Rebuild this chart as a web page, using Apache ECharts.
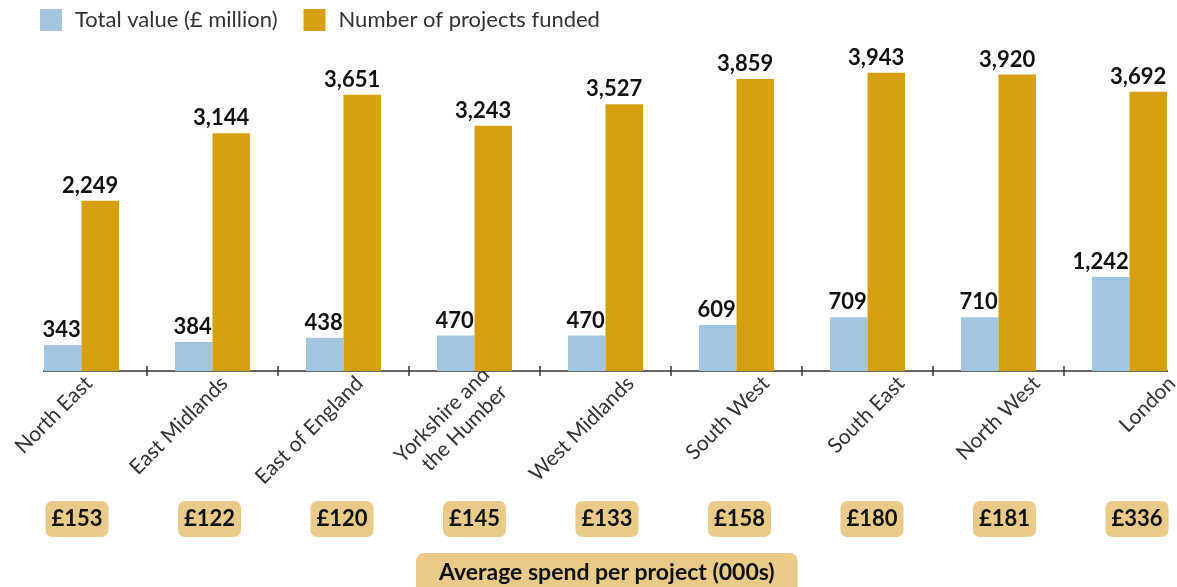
<!DOCTYPE html>
<html>
<head>
<meta charset="utf-8">
<script src="https://cdn.jsdelivr.net/npm/echarts@6/dist/echarts.min.js"></script>
<style>
  html, body { margin: 0; padding: 0; background: #fff; }
  #chart { width: 1177px; height: 587px; }
</style>
</head>
<body>
<div id="chart"></div>
<script>
// regions, left to right
const regions = ['North East', 'East Midlands', 'East of England', 'Yorkshire and\nthe Humber',
  'West Midlands', 'South West', 'South East', 'North West', 'London']
const totalValue = [343, 384, 438, 470, 470, 609, 709, 710, 1242]
const projectsFunded = [2249, 3144, 3651, 3243, 3527, 3859, 3943, 3920, 3692]
const avgSpend = ['£153', '£122', '£120', '£145', '£133', '£158', '£180', '£181', '£336']

const blue = '#a3c6e0'
const gold = '#d69f10'
const boxColor = '#eaca88'
const font = 'Lato'

let myChart = echarts.init(document.getElementById('chart'))

const barLabel = {
  show: true,
  position: 'top',
  distance: 4,
  align: 'right',
  offset: [18, 0],
  color: '#111',
  fontFamily: font,
  fontWeight: 'bold',
  fontSize: 22,
  formatter: p => p.value.toLocaleString('en-GB')
}

const tickStyle = { color: '#333', width: 1.5 }
// skip the tick at the far left edge, the axis line starts at the first bar
const tickFilter = (i) => i > 0

myChart.setOption({
  animation: false,
  legend: {
    left: 40,
    top: 9,
    padding: 0,
    itemWidth: 22,
    itemHeight: 22,
    itemGap: 26,
    icon: 'rect',
    textStyle: { fontFamily: font, fontSize: 22, color: '#333', padding: [0, 0, 0, 8] }
  },
  title: {
    text: 'Average spend per project (000s)',
    left: 416,
    top: 553,
    padding: [7, 23, 14, 23],
    backgroundColor: boxColor,
    borderRadius: 8,
    textStyle: { fontFamily: font, fontSize: 23, fontWeight: 'bold', color: '#111', lineHeight: 26 }
  },
  graphic: [
    { type: 'line', shape: { x1: 43, y1: 371, x2: 1168, y2: 371 }, style: { stroke: '#333', lineWidth: 1.5 } }
  ],
  grid: [
    { left: 16, width: 1179, top: 68.4, bottom: 216, outerBoundsMode: 'none' },
    { left: 21, width: 1218.6, top: 361, height: 10, outerBoundsMode: 'none' },
    { left: 10.75, width: 1192.5, top: 480, height: 10, outerBoundsMode: 'none' }
  ],
  xAxis: [
    {
      type: 'category', gridIndex: 0, data: regions,
      axisLine: { show: false },
      axisTick: { show: true, length: 5, interval: tickFilter, lineStyle: tickStyle },
      axisLabel: { show: false }
    },
    {
      type: 'category', gridIndex: 0, data: regions, position: 'bottom',
      axisLine: { show: false },
      axisTick: { show: true, inside: true, length: 5, interval: tickFilter, lineStyle: tickStyle },
      axisLabel: { show: false }
    },
    {
      type: 'category', gridIndex: 1, data: regions,
      axisLine: { show: false }, axisTick: { show: false },
      axisLabel: { rotate: 45, margin: 9, fontFamily: font, fontSize: 21, color: '#333', lineHeight: 25, interval: 0 }
    },
    {
      type: 'category', gridIndex: 2, data: avgSpend,
      axisLine: { show: false }, axisTick: { show: false },
      axisLabel: {
        margin: 11, interval: 0, fontFamily: font, fontSize: 22, fontWeight: 'bold', color: '#111',
        backgroundColor: boxColor, borderRadius: 7, padding: [7, 6, 7, 6], lineHeight: 22
      }
    }
  ],
  yAxis: [
    { type: 'value', gridIndex: 0, min: 0, max: 4000, show: false },
    { type: 'value', gridIndex: 1, show: false },
    { type: 'value', gridIndex: 2, show: false }
  ],
  series: [
    {
      name: 'Total value (£ million)', type: 'bar', xAxisIndex: 0, yAxisIndex: 0,
      data: totalValue, barWidth: 37.5, barGap: 0, itemStyle: { color: blue }, label: barLabel
    },
    {
      name: 'Number of projects funded', type: 'bar', xAxisIndex: 0, yAxisIndex: 0,
      data: projectsFunded, barWidth: 37.5, barGap: 0, itemStyle: { color: gold }, label: barLabel
    }
  ]
})
</script>
</body>
</html>
